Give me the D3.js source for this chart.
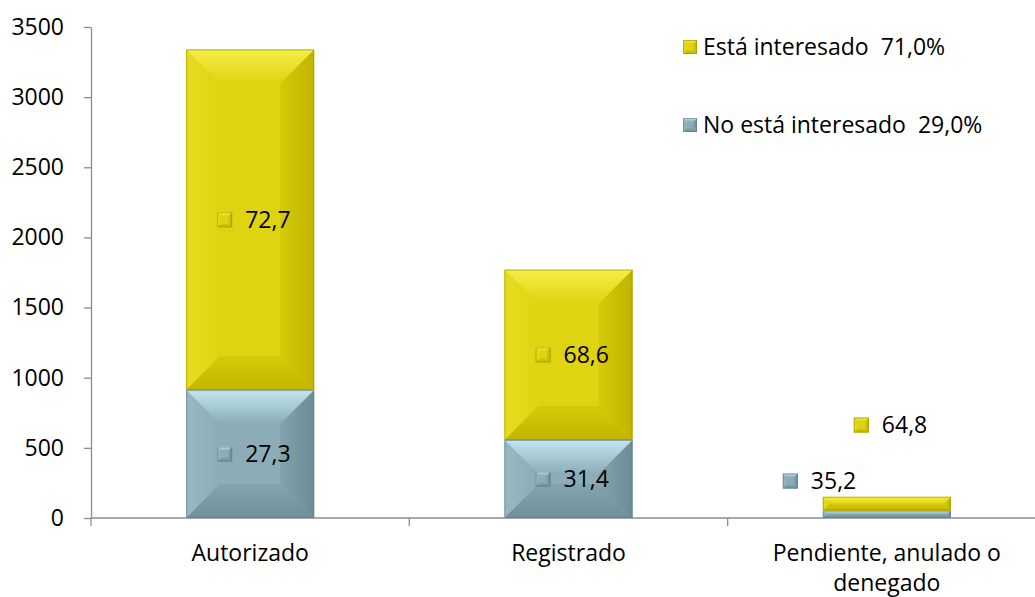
<!DOCTYPE html>
<html>
<head>
<meta charset="utf-8">
<script src="https://cdn.jsdelivr.net/npm/d3@7"></script>
<style>
  html, body { margin: 0; padding: 0; background: #fff; }
  svg { display: block; }
  text { font-family: "Open Sans", "Noto Sans", sans-serif; fill: #000; }
</style>
</head>
<body>
<div id="chart"></div>
<script>
// ---------- data ----------
const categories = ["Autorizado", "Registrado", "Pendiente, anulado o denegado"];
const noInteresado = [912, 556, 53];
const interesado = [2428, 1214, 98];
const pctNo = ["27,3", "31,4", "35,2"];
const pctSi = ["72,7", "68,6", "64,8"];
const yTicks = [0, 500, 1000, 1500, 2000, 2500, 3000, 3500];
const seriesNames = ["Está interesado  71,0%", "No está interesado  29,0%"];

// ---------- style / layout ----------
const W = 1035, H = 597;
const FONT = 23;
const styles = {
  si: { base: "#e0d311", top0: "#f6ee48", top1: "#e0d311", bot0: "#d6c90a", bot1: "#c2b600", left0: "#e8dc22", left1: "#e0d311", right0: "#d6ca08", right1: "#c0b400", edge: "#9a9000" },
  no: { base: "#8cadb7", top0: "#c2e5ef", top1: "#8cadb7", bot0: "#84a5af", bot1: "#6f8f99", left0: "#98b9c3", left1: "#8cadb7", right0: "#83a3ad", right1: "#6c8b95", edge: "#5d7982" }
};
// manual data-label placement tweaks (pixel offsets, per category) for the tiny last bar
const labelShift = {
  si: [null, null, { dx: 0, y: 425 }],
  no: [null, null, { dx: -71, y: 481 }]
};

const svg = d3.select("#chart").append("svg").attr("width", W).attr("height", H);
const defs = svg.append("defs");

function makeGrad(id, c0, c1, dir) {
  const g = defs.append("linearGradient").attr("id", id);
  if (dir === "down") g.attr("x1", 0).attr("y1", 0).attr("x2", 0).attr("y2", 1);
  else g.attr("x1", 0).attr("y1", 0).attr("x2", 1).attr("y2", 0);
  g.append("stop").attr("offset", "0%").attr("stop-color", c0);
  g.append("stop").attr("offset", "100%").attr("stop-color", c1);
}
Object.entries(styles).forEach(([k, s]) => {
  makeGrad(k + "-top", s.top0, s.top1, "down");
  makeGrad(k + "-bot", s.bot0, s.bot1, "down");
  makeGrad(k + "-right", s.right0, s.right1, "right");
  makeGrad(k + "-left", s.left0, s.left1, "right");
});

function bevelRect(g, x0, y0, w, h, key, maxDepth) {
  const s = styles[key];
  const b = Math.max(0, Math.min(maxDepth, h / 2, w / 2));
  const x1 = x0 + w, y1 = y0 + h;
  g.append("rect").attr("x", x0).attr("y", y0).attr("width", w).attr("height", h).attr("fill", s.base);
  const poly = (pts, fill) => g.append("polygon").attr("points", pts.map(p => p.join(",")).join(" ")).attr("fill", fill);
  poly([[x0, y0], [x0 + b, y0 + b], [x0 + b, y1 - b], [x0, y1]], `url(#${key}-left)`);
  poly([[x1, y0], [x1 - b, y0 + b], [x1 - b, y1 - b], [x1, y1]], `url(#${key}-right)`);
  poly([[x0, y0], [x1, y0], [x1 - b, y0 + b], [x0 + b, y0 + b]], `url(#${key}-top)`);
  poly([[x0, y1], [x1, y1], [x1 - b, y1 - b], [x0 + b, y1 - b]], `url(#${key}-bot)`);
  g.append("rect").attr("x", x0 + 0.5).attr("y", y0 + 0.5).attr("width", Math.max(0, w - 1)).attr("height", Math.max(0, h - 1))
    .attr("fill", "none").attr("stroke", s.edge).attr("stroke-width", 1).attr("stroke-opacity", 0.6);
}

// ---------- scales ----------
const y = d3.scaleLinear().domain([0, 3500]).range([518, 27]);
const x = d3.scaleBand().domain(categories).range([91, 1046]).padding(0);
const barW = x.bandwidth() * 0.402;
const cx = c => x(c) + x.bandwidth() / 2;

// ---------- axes ----------
const axisColor = "#8c8c8c";
const yAxis = svg.append("g").attr("transform", "translate(91,0)")
  .call(d3.axisLeft(y).tickValues(yTicks).tickSizeInner(7).tickSizeOuter(0).tickPadding(20).tickFormat(d3.format("d")));
yAxis.select(".domain").attr("stroke", axisColor).attr("stroke-width", 1.3);
yAxis.selectAll(".tick line").attr("stroke", axisColor).attr("stroke-width", 1.3);
yAxis.selectAll(".tick text").attr("font-size", FONT).attr("fill", "#000")
  .attr("font-family", "'Open Sans', sans-serif");

// x axis
const xAxis = svg.append("g").attr("transform", "translate(0,518)")
  .call(d3.axisBottom(x).tickSize(0).tickPadding(27));
xAxis.select(".domain").remove();
xAxis.append("line").attr("x1", 91).attr("x2", 1046).attr("y1", 0).attr("y2", 0)
  .attr("stroke", axisColor).attr("stroke-width", 1.6);
const bounds = categories.map(c => x(c)).concat([x.range()[1]]);
xAxis.selectAll(".bound").data(bounds).enter().append("line").attr("class", "bound")
  .attr("x1", d => d).attr("x2", d => d).attr("y1", 0).attr("y2", 8)
  .attr("stroke", axisColor).attr("stroke-width", 1.3);
xAxis.selectAll(".tick text").attr("font-size", FONT).attr("fill", "#000")
  .attr("font-family", "'Open Sans', sans-serif")
  .each(function () { wrap(d3.select(this), 280); });

function wrap(text, width) {
  const words = text.text().split(/\s+/);
  const yy = text.attr("y"), dy0 = parseFloat(text.attr("dy")) || 0;
  text.text(null);
  let line = [], lineNo = 0;
  let tspan = text.append("tspan").attr("x", 0).attr("y", yy).attr("dy", dy0 + "em");
  words.forEach(w => {
    line.push(w);
    tspan.text(line.join(" "));
    if (tspan.node().getComputedTextLength() > width && line.length > 1) {
      line.pop();
      tspan.text(line.join(" "));
      line = [w];
      lineNo++;
      tspan = text.append("tspan").attr("x", 0).attr("y", yy).attr("dy", (dy0 + lineNo * 1.3) + "em").text(w);
    }
  });
}

// ---------- bars ----------
const bars = svg.append("g");
categories.forEach((c, i) => {
  const x0 = cx(c) - barW / 2;
  const yNoTop = y(noInteresado[i]);
  const ySiTop = y(noInteresado[i] + interesado[i]);
  bevelRect(bars, x0, yNoTop, barW, y(0) - yNoTop, "no", 34);
  bevelRect(bars, x0, ySiTop, barW, yNoTop - ySiTop, "si", 34);
});

// ---------- data labels ----------
const labels = svg.append("g");
function dataLabel(key, c, i, yMid, txt) {
  const sh = labelShift[key][i];
  const lx = cx(c) + (sh ? sh.dx : 0);
  const ly = sh ? sh.y : yMid;
  bevelRect(labels, lx - 33, ly - 7.5, 15, 15, key, 4);
  labels.append("text").attr("x", lx - 5).attr("y", ly).attr("dy", "0.35em")
    .attr("font-size", FONT).text(txt);
}
categories.forEach((c, i) => {
  const yNoMid = (y(0) + y(noInteresado[i])) / 2;
  const ySiMid = (y(noInteresado[i]) + y(noInteresado[i] + interesado[i])) / 2;
  dataLabel("no", c, i, yNoMid, pctNo[i]);
  dataLabel("si", c, i, ySiMid, pctSi[i]);
});

// ---------- legend ----------
const legend = svg.append("g");
[["si", 47], ["no", 125]].forEach(([k, ly], j) => {
  bevelRect(legend, 683, ly - 7, 14, 14, k, 4);
  legend.append("text").attr("x", 703).attr("y", ly).attr("dy", "0.35em")
    .attr("font-size", FONT).style("white-space", "pre").text(seriesNames[j]);
});
</script>
</body>
</html>
